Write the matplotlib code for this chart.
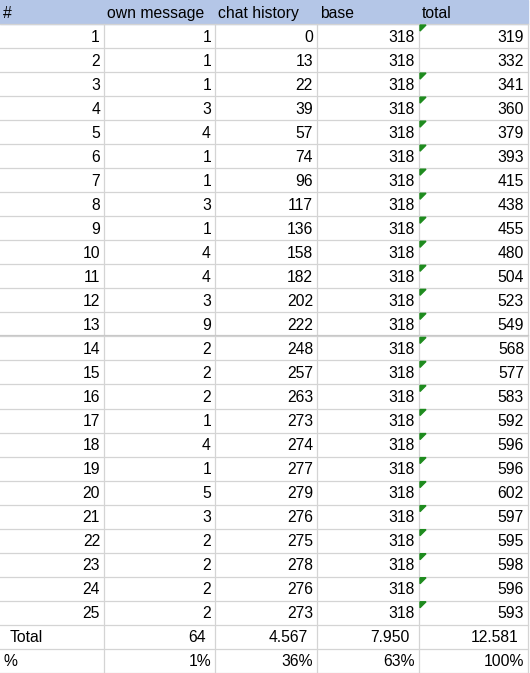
import matplotlib.pyplot as plt
import matplotlib.patches as patches

headers = ["#", "own message", "chat history", "base", "total"]
row_ids = list(range(1, 26))
own_message = [1, 1, 1, 3, 4, 1, 1, 3, 1, 4, 4, 3, 9, 2, 2, 2, 1, 4, 1, 5, 3, 2, 2, 2, 2]
chat_history = [0, 13, 22, 39, 57, 74, 96, 117, 136, 158, 182, 202, 222,
                248, 257, 263, 273, 274, 277, 279, 276, 275, 278, 276, 273]
base = [318] * 25
total = [319, 332, 341, 360, 379, 393, 415, 438, 455, 480, 504, 523, 549,
         568, 577, 583, 592, 596, 596, 602, 597, 595, 598, 596, 593]
total_row = ["Total", "64", "4.567", "7.950", "12.581"]
pct_row = ["%", "1%", "36%", "63%", "100%"]
no_flag_rows = [2]  # total cells without the green corner marker

W, H = 530, 673
col_x = [0, 104, 215, 317, 419, 528]
row_h = 24.03
n_rows = 28

fig = plt.figure(figsize=(W / 100, H / 100), dpi=100)
ax = fig.add_axes([0, 0, 1, 1])
ax.set_xlim(0, W)
ax.set_ylim(H, 0)
ax.axis("off")

font = dict(family="Liberation Sans", fontsize=11.3, color="#000000")

# header background
ax.add_patch(patches.Rectangle((0, 0), col_x[-1], row_h, color="#B4C6E7", zorder=0))

# grid
for i in range(1, n_rows + 1):
    y = i * row_h
    ax.plot([0, col_x[-1]], [y, y], color="#D4D4D4", lw=0.9, zorder=1)
for x in col_x[1:]:
    ax.plot([x, x], [row_h, n_rows * row_h], color="#D4D4D4", lw=0.9, zorder=1)
ax.plot([0, col_x[-1]], [14 * row_h - 1.5, 14 * row_h - 1.5], color="#C8C8C8", lw=0.9)

def cy(r):
    return (r + 0.5) * row_h + 1

for c, h in enumerate(headers):
    ax.text(col_x[c] + 3, cy(0), h, ha="left", va="center", **font)

for i in range(25):
    r = i + 1
    vals = [row_ids[i], own_message[i], chat_history[i], base[i], total[i]]
    for c, v in enumerate(vals):
        ax.text(col_x[c + 1] - 4, cy(r), str(v), ha="right", va="center", **font)
    if row_ids[i] not in no_flag_rows:
        x0, y0 = col_x[4] + 1, r * row_h + 1
        ax.add_patch(patches.Polygon([(x0, y0), (x0 + 6, y0), (x0, y0 + 6)],
                                     closed=True, color="#1E8B1E", zorder=3))

ax.text(10, cy(26), total_row[0], ha="left", va="center", **font)
for c in range(1, 5):
    ax.text(col_x[c + 1] - 9, cy(26), total_row[c], ha="right", va="center", **font)
ax.text(3, cy(27), pct_row[0], ha="left", va="center", **font)
for c in range(1, 5):
    ax.text(col_x[c + 1] - 4, cy(27), pct_row[c], ha="right", va="center", **font)

fig.savefig("out.png", dpi=100)
